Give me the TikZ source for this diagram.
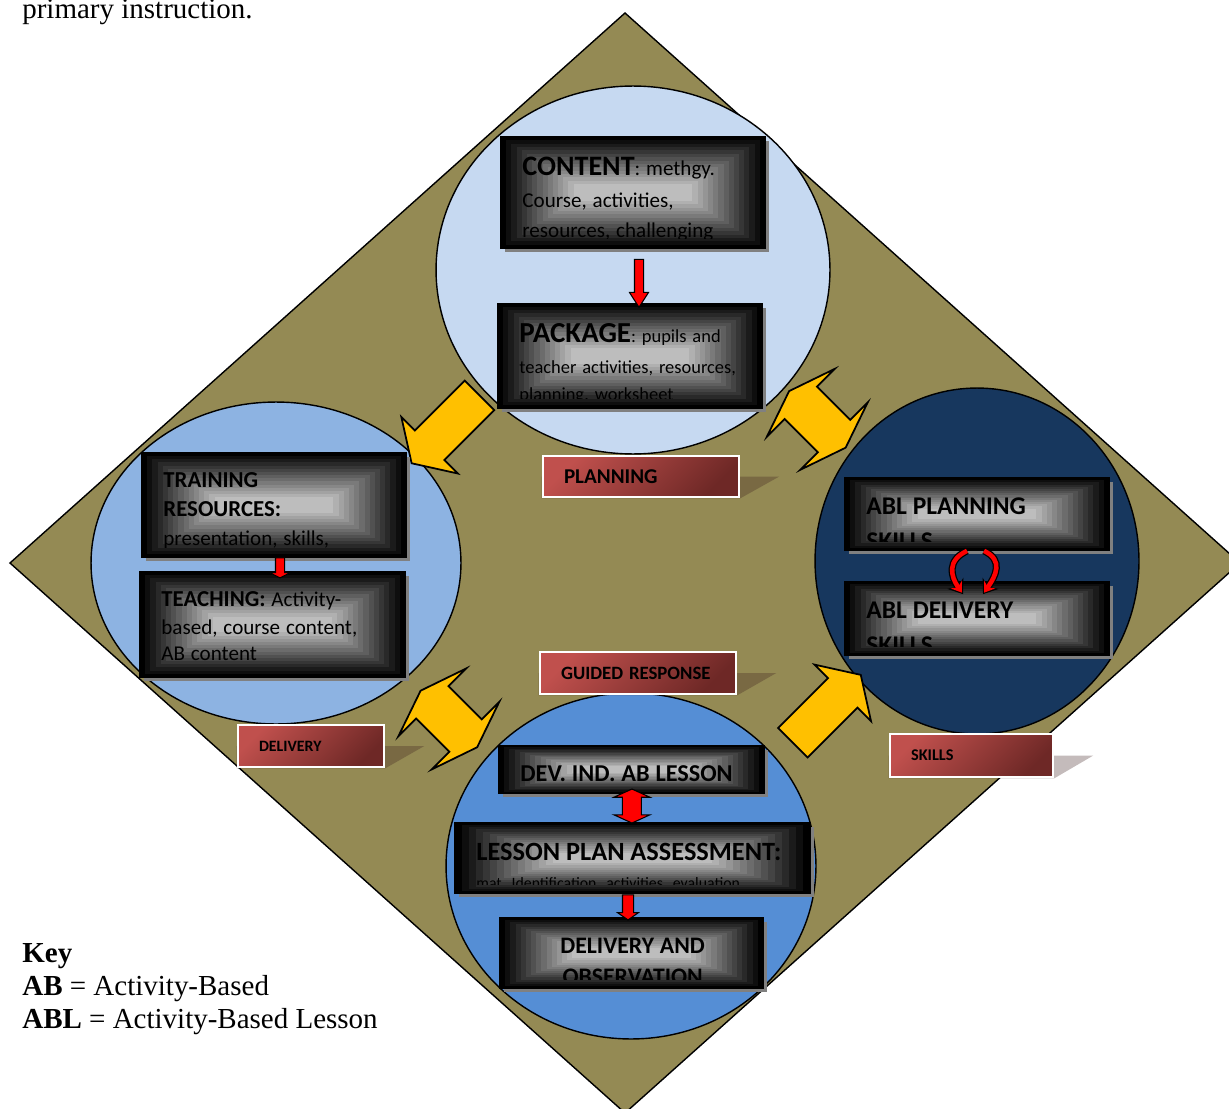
\documentclass[tikz,border=0pt]{standalone}
\usepackage{fontspec}
\setmainfont{Liberation Serif}
\newfontfamily\calib{Carlito}
\usetikzlibrary{calc}
\usetikzlibrary{shapes.geometric,shapes.arrows}
\usetikzlibrary{arrows.meta}
\usetikzlibrary{shadows}

\definecolor{kite}{HTML}{948A54}
\definecolor{planblue}{HTML}{C6D9F1}
\definecolor{delblue}{HTML}{8DB3E2}
\definecolor{skillnavy}{HTML}{17375E}
\definecolor{guideblue}{HTML}{558ED5}
\definecolor{gold}{HTML}{FFC000}
\definecolor{tagred}{HTML}{C0504D}
\definecolor{tagdark}{HTML}{6E2826}
\definecolor{tagshade}{RGB}{60,30,30}

\newcommand{\fsz}[2]{\fontsize{#1}{#2}\selectfont}

\pgfdeclarelayer{back}
\pgfdeclarelayer{shade}
\pgfsetlayers{back,shade,main}

\tikzset{
  ring/.style={ellipse, draw=black, line width=0.8pt, inner sep=0pt},
  ysingle/.style={single arrow, draw=black, fill=gold, line width=1pt, inner xsep=0pt, inner ysep=0.4cm,
    minimum height=1.92cm, single arrow head extend=0.38cm, single arrow tip angle=115},
  ydouble/.style={double arrow, draw=black, fill=gold, line width=1pt, inner xsep=0pt, inner ysep=0.44cm,
    minimum height=1.6cm, double arrow head extend=0.5cm, double arrow tip angle=142},
  rsingle/.style={single arrow, draw=black, fill=red, line width=0.6pt, inner xsep=0pt, inner ysep=0.08cm, rotate=-90},
  rdouble/.style={double arrow, draw=black, fill=red, line width=0.6pt, inner xsep=0pt, inner ysep=0.18cm, rotate=90},
  swirl/.style={line width=4pt, draw=black, -{Stealth[length=7.5pt, width=11pt]}},
  swirlin/.style={line width=2.6pt, draw=red, shorten >=1pt, -{Stealth[length=5.6pt, width=7.6pt]}},
  boxtext/.style={anchor=north west, inner sep=0pt, minimum width=0pt, minimum height=0pt, draw=none,
    align=left, font=\calib},
  gbox/.style 2 args={draw=black, line width=1pt, inner sep=0pt,
    drop shadow={shadow xshift=0.08cm, shadow yshift=-0.08cm, fill=black!50, opacity=1},
    path picture={
      \foreach \k [evaluate=\k as \pc using \k*5.3] in {0,...,14}
        \fill[white!\pc!black] let \p1=(path picture bounding box.south west), \p2=(path picture bounding box.north east),
          \n1={(\x2-\x1)*0.55/28}, \n2={(\y2-\y1)*0.85/28} in
          (\x1+\k*\n1, \y1+\k*\n2) rectangle (\x2-\k*\n1, \y2-\k*\n2);
      \begin{scope}
        \clip ([shift={(0.1cm,0.18cm)}]path picture bounding box.south west) rectangle ([shift={(-0.1cm,-0.1cm)}]path picture bounding box.north east);
        \path let \p1=(path picture bounding box.west), \p2=(path picture bounding box.east), \n1={\x2-\x1-14.2} in
          node[boxtext, text width=\n1] (#1) at ([shift={(0.41cm,-0.38cm)}]path picture bounding box.north west) {#2\endgraf};
      \end{scope}
    }},
  tag/.style={draw=white, line width=1.5pt, top color=tagred, bottom color=tagdark, shading angle=45,
    inner xsep=0.42cm, inner ysep=0.1cm, align=left, font=\calib\bfseries},
  tagshadow/.style={fill=tagshade, opacity=0.3},
}

\begin{document}
\begin{tikzpicture}[x=0.02cm, y=-0.02cm]
  \useasboundingbox (0,0) rectangle (1229,1108);
  %KITE AND CIRCLES
  \begin{pgfonlayer}{back}
    \filldraw[fill=kite, line width=0.8pt] (625,13) -- (1240,563) -- (625,1113) -- (10,563) -- cycle;
    \node[ring, fill=planblue, minimum width=7.88cm, minimum height=7.36cm] (planc) at (633,270) {};
    \node[ring, fill=delblue, minimum width=7.4cm, minimum height=6.44cm] (delc) at (276,563) {};
    \node[ring, fill=skillnavy, minimum width=6.48cm, minimum height=6.92cm] (skillc) at (977,561) {};
    \node[ring, fill=guideblue, minimum width=7.4cm, minimum height=6.92cm] (guidec) at (631,866) {};
  \end{pgfonlayer}

  \node[anchor=base west, inner sep=0pt, font=\fsz{16.5}{19}] (caption) at (22,19) {primary instruction.};

  %YELLOW ARROWS
  \path (planc.south west) -- (delc.north east) node[midway, ysingle, rotate=225] (ya1) {};
  \path (planc.south east) -- (skillc.north west) node[midway, ydouble, rotate=-45] (ya2) {};
  \path (delc.south east) -- (guidec.north west) node[pos=.45, yshift=-0.24cm, ydouble, rotate=-45] (ya3) {};
  \path (guidec.north east) -- (skillc.south west) node[midway, xshift=0.2cm, ysingle, rotate=45] (ya4) {};

  %BOXES
  \node[gbox={content-t}{\fsz{12}{17}{\fsz{16}{17}\bfseries CONTENT}: methgy.\\[1.5pt] Course, activities,\\ resources, challenging},
    minimum width=5.28cm, minimum height=2.22cm] (content) at (633,192.5) {};
  \node[gbox={package-t}{\fsz{10.5}{15.3}{\fsz{16.5}{17}\bfseries PACKAGE}: pupils and\\[2pt] teacher activities, resources,\\ planning, worksheet},
    minimum width=5.28cm, minimum height=2.08cm] (package) at (630,356) {};
  \node[gbox={training-t}{\fsz{12}{16.5}{\fsz{13}{16.5}\bfseries TRAINING\\ RESOURCES:}\\ presentation, skills,},
    minimum width=5.28cm, minimum height=2.08cm] (training) at (274,505) {};
  \node[gbox={teaching-t}{\fsz{12}{15}{\fsz{13}{15}\bfseries TEACHING:} Activity-\\[0.5pt] based, course content,\\ AB content},
    minimum width=5.3cm, minimum height=2.1cm] (teaching) at (272.5,624.5) {};
  \node[gbox={ablp-t}{\fsz{14.5}{20}\bfseries ABL PLANNING\\ SKILLS},
    minimum width=5.28cm, minimum height=1.44cm] (ablp) at (977,514) {};
  \node[gbox={abld-t}{\fsz{14.5}{20}\bfseries ABL DELIVERY\\ SKILLS},
    minimum width=5.28cm, minimum height=1.46cm] (abld) at (977,618.5) {};
  \node[gbox={dev-t}{\fsz{13.8}{17}\bfseries DEV. IND. AB LESSON},
    minimum width=5.3cm, minimum height=0.94cm] (dev) at (631.5,769.5) {};
  \node[gbox={lesson-t}{\fsz{9}{16}{\fsz{15}{18}\bfseries LESSON PLAN ASSESSMENT:}\\ mat.\ Identification, activities, evaluation,},
    minimum width=7.1cm, minimum height=1.4cm] (lesson) at (632.5,858) {};
  \node[gbox={observe-t}{\centering\leftskip=-0.31cm plus 1fil\fsz{13.5}{17.5}\bfseries DELIVERY AND\\ OBSERVATION},
    minimum width=5.26cm, minimum height=1.4cm] (observe) at (631.5,953) {};

  %RED ARROWS
  \path ([xshift=0.12cm]content.south) -- ([xshift=0.18cm]package.north)
    node[pos=.57, rsingle, minimum height=0.96cm, single arrow head extend=0.1cm, single arrow tip angle=65] (cp) {};
  \path ([xshift=0.12cm]training.south) -- ([xshift=0.15cm]teaching.north)
    node[pos=.67, rsingle, minimum height=0.4cm, single arrow head extend=0.12cm, single arrow tip angle=127] (tt) {};
  \path (dev.south) -- (lesson.north)
    node[pos=.43, rdouble, minimum height=0.68cm, double arrow head extend=0.17cm, double arrow tip angle=131] (dl) {};
  \path ([xshift=-0.09cm]lesson.south) -- ([xshift=-0.07cm]observe.north)
    node[midway, rsingle, inner ysep=0.1cm, minimum height=0.5cm, single arrow head extend=0.1cm, single arrow tip angle=110] (lo) {};

  \draw[swirl] ([xshift=-0.2cm]ablp.south) to[out=205, in=125, looseness=1.3] ([xshift=-0.28cm, yshift=-0.26cm]abld.north);
  \draw[swirlin] ([xshift=-0.2cm]ablp.south) to[out=205, in=125, looseness=1.3] ([xshift=-0.28cm, yshift=-0.26cm]abld.north);
  \draw[swirl] ([xshift=0.14cm]ablp.south) to[out=-25, in=55, looseness=1.3] ([xshift=0.12cm, yshift=-0.26cm]abld.north);
  \draw[swirlin] ([xshift=0.14cm]ablp.south) to[out=-25, in=55, looseness=1.3] ([xshift=0.12cm, yshift=-0.26cm]abld.north);

  %LABELS
  \node[tag, text width=3.08cm, minimum height=0.82cm] (planlab) at (641,476.5) {\fsz{12}{14}PLANNING};
  \node[tag, text width=3.08cm, minimum height=0.84cm] (guidelab) at (638,673) {\fsz{10.7}{13}GUIDED RESPONSE};
  \node[tag, text width=2.08cm, minimum height=0.84cm] (delivlab) at (311,746) {\fsz{9}{11}DELIVERY};
  \node[tag, text width=2.42cm, minimum height=0.86cm] (skilllab) at (971.5,755.5) {\fsz{9.3}{11}SKILLS};
  \begin{pgfonlayer}{shade}
    \foreach \t in {planlab, guidelab, delivlab, skilllab}
      \fill[tagshadow] (\t.south west) -- (\t.south east) -- ([xshift=0.78cm]\t.east) -- (\t.west) -- cycle;
  \end{pgfonlayer}

  %KEY
  \node[anchor=north west, inner sep=0pt, align=left, font=\fsz{16.5}{18.7}] (key) at (22,943)
    {\textbf{Key}\\ \textbf{AB} = Activity-Based\\ \textbf{ABL} = Activity-Based Lesson};
\end{tikzpicture}
\end{document}
